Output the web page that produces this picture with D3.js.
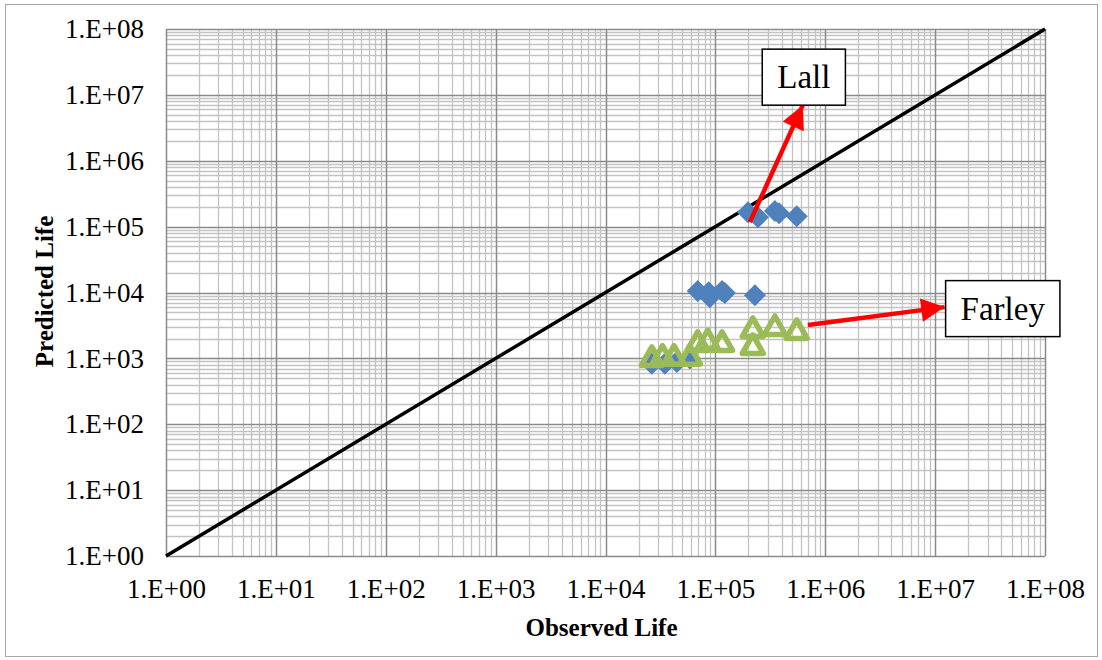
<!DOCTYPE html>
<html>
<head>
<meta charset="utf-8">
<script src="https://cdn.jsdelivr.net/npm/d3@7/dist/d3.min.js"></script>
<style>
  body { margin: 0; background: #fff; }
  svg text { font-family: "Liberation Serif", "Times New Roman", serif; fill: #000; }
</style>
</head>
<body>
<div id="chart-area"></div>
<script>
// values
const lallObserved = [1.98e5, 2.44e5, 3.48e5, 3.8e5, 5.5e5, 6.9e4, 8.7e4, 8.9e4, 1.15e5, 1.22e5, 2.29e5, 2.64e4, 3.47e4, 4.46e4, 5.86e4]
const lallPredicted = [1.66e5, 1.39e5, 1.72e5, 1.6e5, 1.44e5, 1.05e4, 1.01e4, 8.5e3, 1.05e4, 9.8e3, 9.1e3, 8.3e2, 8.3e2, 8.8e2, 1.0e3]

const farleyObserved = [2.64e4, 3.3e4, 4.2e4, 5.86e4, 6.9e4, 8.5e4, 1.15e5, 2.19e5, 2.19e5, 3.48e5, 5.5e5]
const farleyPredicted = [1.05e3, 1.1e3, 1.1e3, 1.1e3, 1.78e3, 1.9e3, 1.78e3, 2.9e3, 1.6e3, 3.1e3, 2.7e3]

const tickValues = [1e0, 1e1, 1e2, 1e3, 1e4, 1e5, 1e6, 1e7, 1e8]
const tickLabels = ["1.E+00", "1.E+01", "1.E+02", "1.E+03", "1.E+04", "1.E+05", "1.E+06", "1.E+07", "1.E+08"]

const lineEnds = [1e0, 1e8]

// annotation anchors in data units: tail of the arrow, tip of the arrow
const notes = [
  { label: "Lall", tail: [2.06e5, 1.17e5], tip: [6.25e5, 6.98e6], side: "top" },
  { label: "Farley", tail: [6.95e5, 3.2e3], tip: [1.22e7, 6.0e3], side: "right" }
]

const W = 1102, H = 660
const MARGIN = { LEFT: 166, RIGHT: 57, TOP: 29, BOTTOM: 104 }
const WIDTH = W - MARGIN.LEFT - MARGIN.RIGHT
const HEIGHT = H - MARGIN.TOP - MARGIN.BOTTOM
const FONT = "Liberation Serif"

const svg = d3.select("#chart-area").append("svg")
  .attr("width", W)
  .attr("height", H)

// outer chart border
svg.append("rect")
  .attr("x", 5.5).attr("y", 4.5)
  .attr("width", W - 10).attr("height", H - 8)
  .attr("fill", "#fff")
  .attr("stroke", "#a6a6a6")

const g = svg.append("g")
  .attr("transform", `translate(${MARGIN.LEFT}, ${MARGIN.TOP})`)

const x = d3.scaleLog().domain([1, 1e8]).range([0, WIDTH])
const y = d3.scaleLog().domain([1, 1e8]).range([HEIGHT, 0])

// minor grid (2..9 in each decade)
const minor = []
tickValues.slice(0, -1).forEach(d => {
  for (let k = 2; k <= 9; k++) minor.push(d * k)
})

g.append("g").selectAll("line.vmin")
  .data(minor).enter().append("line")
  .attr("x1", d => Math.round(x(d)) + 0.5).attr("x2", d => Math.round(x(d)) + 0.5)
  .attr("y1", 0).attr("y2", HEIGHT)
  .attr("stroke", "#c3c3c3").attr("stroke-width", 1.3)

g.append("g").selectAll("line.hmin")
  .data(minor).enter().append("line")
  .attr("y1", d => Math.round(y(d)) + 0.5).attr("y2", d => Math.round(y(d)) + 0.5)
  .attr("x1", 0).attr("x2", WIDTH)
  .attr("stroke", "#c3c3c3").attr("stroke-width", 1.3)

// major grid
g.append("g").selectAll("line")
  .data(tickValues).enter().append("line")
  .attr("x1", d => Math.round(x(d)) + 0.5).attr("x2", d => Math.round(x(d)) + 0.5)
  .attr("y1", 0).attr("y2", HEIGHT)
  .attr("stroke", "#8a8a8a").attr("stroke-width", 1.5)

g.append("g").selectAll("line")
  .data(tickValues).enter().append("line")
  .attr("y1", d => Math.round(y(d)) + 0.5).attr("y2", d => Math.round(y(d)) + 0.5)
  .attr("x1", 0).attr("x2", WIDTH)
  .attr("stroke", "#8a8a8a").attr("stroke-width", 1.5)

// axes
const xAxisCall = d3.axisBottom(x)
  .tickValues(tickValues)
  .tickSize(0)
  .tickPadding(23)
  .tickFormat((d, i) => tickLabels[i])
const xAxis = g.append("g")
  .attr("class", "x axis")
  .attr("transform", `translate(0, ${HEIGHT})`)
  .call(xAxisCall)
xAxis.select(".domain").remove()
xAxis.selectAll("text")
  .attr("font-size", "27px")
  .attr("font-family", FONT)

const yAxisCall = d3.axisLeft(y)
  .tickValues(tickValues)
  .tickSize(0)
  .tickPadding(22)
  .tickFormat((d, i) => tickLabels[i])
const yAxis = g.append("g")
  .attr("class", "y axis")
  .call(yAxisCall)
yAxis.select(".domain").remove()
yAxis.selectAll("text")
  .attr("font-size", "27px")
  .attr("font-family", FONT)

// X label
g.append("text")
  .attr("x", WIDTH / 2 - 4)
  .attr("y", HEIGHT + 80)
  .attr("font-size", "25px")
  .attr("font-family", FONT)
  .attr("font-weight", "bold")
  .attr("text-anchor", "middle")
  .text("Observed Life")

// Y label
g.append("text")
  .attr("x", -(HEIGHT / 2) + 1)
  .attr("y", -MARGIN.LEFT + 53)
  .attr("font-size", "25px")
  .attr("font-family", FONT)
  .attr("font-weight", "bold")
  .attr("text-anchor", "middle")
  .attr("transform", "rotate(-90)")
  .text("Predicted Life")

// 1:1 line
g.append("line")
  .attr("x1", x(lineEnds[0])).attr("y1", y(lineEnds[0]))
  .attr("x2", x(lineEnds[1])).attr("y2", y(lineEnds[1]))
  .attr("stroke", "#000")
  .attr("stroke-width", 3.5)

// Lall: filled diamonds
const lall = lallObserved.map((d, i) => ({ obs: d, pred: lallPredicted[i] }))
g.append("g").selectAll("path")
  .data(lall).enter().append("path")
  .attr("d", "M0,-11L11,0L0,11L-11,0Z")
  .attr("transform", d => `translate(${x(d.obs)}, ${y(d.pred)})`)
  .attr("fill", "#4f81bd")

// Farley: open triangles
const farley = farleyObserved.map((d, i) => ({ obs: d, pred: farleyPredicted[i] }))
g.append("g").selectAll("path")
  .data(farley).enter().append("path")
  .attr("d", "M0,-10L10.5,8.5L-10.5,8.5Z")
  .attr("transform", d => `translate(${x(d.obs)}, ${y(d.pred)})`)
  .attr("fill", "none")
  .attr("stroke", "#9bbb59")
  .attr("stroke-width", 5.5)
  .attr("stroke-linejoin", "round")

// arrows and label boxes
svg.append("defs").append("marker")
  .attr("id", "head")
  .attr("viewBox", "0 0 10 10")
  .attr("refX", 10).attr("refY", 5)
  .attr("markerWidth", 5.5).attr("markerHeight", 5.2)
  .attr("markerUnits", "strokeWidth")
  .attr("orient", "auto")
  .append("path")
  .attr("d", "M0,0L10,5L0,10Z")
  .attr("fill", "#ff0000")

notes.forEach(n => {
  const tx = x(n.tip[0]), ty = y(n.tip[1])
  g.append("line")
    .attr("x1", x(n.tail[0])).attr("y1", y(n.tail[1]))
    .attr("x2", tx).attr("y2", ty)
    .attr("stroke", "#ff0000")
    .attr("stroke-width", 4.5)
    .attr("marker-end", "url(#head)")

  const box = g.append("g")
  const label = box.append("text")
    .attr("font-size", "33px")
    .attr("font-family", FONT)
    .attr("text-anchor", "middle")
    .text(n.label)
  const bw = label.node().getComputedTextLength() + 30
  const bh = 56
  let cx, cy
  if (n.side === "top") { cx = tx + 1; cy = ty - bh / 2 }
  else { cx = tx + bw / 2 + 1; cy = ty + 1.5 }
  box.insert("rect", "text")
    .attr("x", cx - bw / 2).attr("y", cy - bh / 2)
    .attr("width", bw).attr("height", bh)
    .attr("fill", "#fff")
    .attr("stroke", "#000")
    .attr("stroke-width", 1.5)
  label.attr("x", cx).attr("y", cy + 11)
})
</script>
</body>
</html>
